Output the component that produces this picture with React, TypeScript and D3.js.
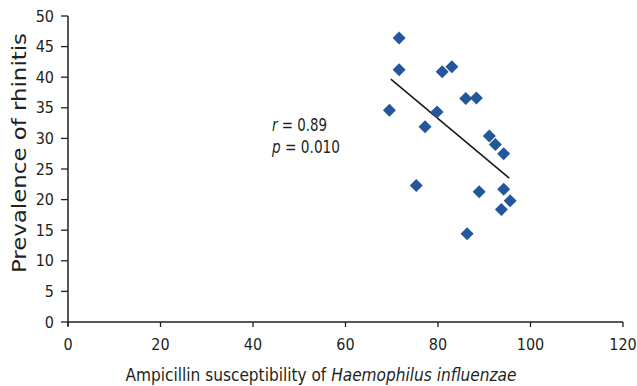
import React from 'react';
import * as d3 from 'd3';

// Ampicillin susceptibility (%) vs prevalence of rhinitis
const susceptibility = [71.6, 71.6, 80.9, 83.0, 69.5, 79.8, 77.2, 86.0, 88.3, 91.1, 92.4, 94.2, 75.3, 88.9, 94.2, 95.6, 93.7, 86.3];
const prevalence = [46.4, 41.2, 40.9, 41.7, 34.6, 34.3, 31.9, 36.5, 36.6, 30.4, 29.0, 27.5, 22.3, 21.3, 21.7, 19.8, 18.4, 14.4];

// fitted line end points
const trendX = [69.8, 95.4];
const trendY = [39.7, 23.5];

const xTicks = [0, 20, 40, 60, 80, 100, 120];
const yTicks = [0, 5, 10, 15, 20, 25, 30, 35, 40, 45, 50];

const FONT = '"DejaVu Sans Condensed", "DejaVu Sans", "Open Sans", sans-serif';

export default function App() {
  const width = 637;
  const height = 386;
  const x = d3.scaleLinear().domain([0, 120]).range([68, 623]);
  const y = d3.scaleLinear().domain([0, 50]).range([322, 16]);
  const axisColor = '#231f20';
  const pointColor = '#23579b';
  const r = 6.5;

  const diamond = (cx: number, cy: number) =>
    `M${cx},${cy - r}L${cx + r},${cy}L${cx},${cy + r}L${cx - r},${cy}Z`;

  const line = d3.line<number>()
    .x((d) => x(trendX[d]))
    .y((d) => y(trendY[d]));

  return (
    <svg width={width} height={height} style={{ position: 'absolute', left: 0, top: 0, background: '#fff' }}
      fontFamily={FONT}>
      {/* y axis */}
      <line x1={x(0)} x2={x(0)} y1={y(50)} y2={y(0) + 4} stroke={axisColor} strokeWidth={1.5} />
      {yTicks.map((t) => (
        <g key={t}>
          <line x1={x(0) - 7} x2={x(0)} y1={y(t)} y2={y(t)} stroke={axisColor} strokeWidth={1.3} />
          <text x={x(0) - 14} y={y(t)} textAnchor="end" dominantBaseline="central" fontSize={16} fill={axisColor}>{t}</text>
        </g>
      ))}
      {/* x axis */}
      <line x1={x(0)} x2={x(120)} y1={y(0)} y2={y(0)} stroke={axisColor} strokeWidth={1.5} />
      {xTicks.map((t) => (
        <g key={t}>
          <line x1={x(t)} x2={x(t)} y1={y(0)} y2={y(0) + 5} stroke={axisColor} strokeWidth={1.3} />
          <text x={x(t)} y={y(0) + 28} textAnchor="middle" fontSize={16} fill={axisColor}>{t}</text>
        </g>
      ))}

      {/* trend line */}
      <path d={line([0, 1]) ?? ''} stroke="#1a1a1a" strokeWidth={1.6} fill="none" />

      {/* points */}
      {susceptibility.map((v, i) => (
        <path key={i} d={diamond(x(v), y(prevalence[i]))} fill={pointColor} />
      ))}

      {/* annotation */}
      <text x={272} y={131} fontSize={17} fill={axisColor} textLength={55} lengthAdjust="spacingAndGlyphs">
        <tspan fontStyle="italic">r</tspan> = 0.89
      </text>
      <text x={272} y={153} fontSize={17} fill={axisColor} textLength={68} lengthAdjust="spacingAndGlyphs">
        <tspan fontStyle="italic">p</tspan> = 0.010
      </text>

      {/* axis titles */}
      <text transform="translate(26,153) rotate(-90)" textAnchor="middle" fontSize={19.5} fill={axisColor}
        textLength={240} lengthAdjust="spacingAndGlyphs">
        Prevalence of rhinitis
      </text>
      <text x={321} y={381} textAnchor="middle" fontSize={18} fill={axisColor}
        textLength={391} lengthAdjust="spacingAndGlyphs">
        Ampicillin susceptibility of <tspan fontStyle="italic">Haemophilus influenzae</tspan>
      </text>
    </svg>
  );
}
